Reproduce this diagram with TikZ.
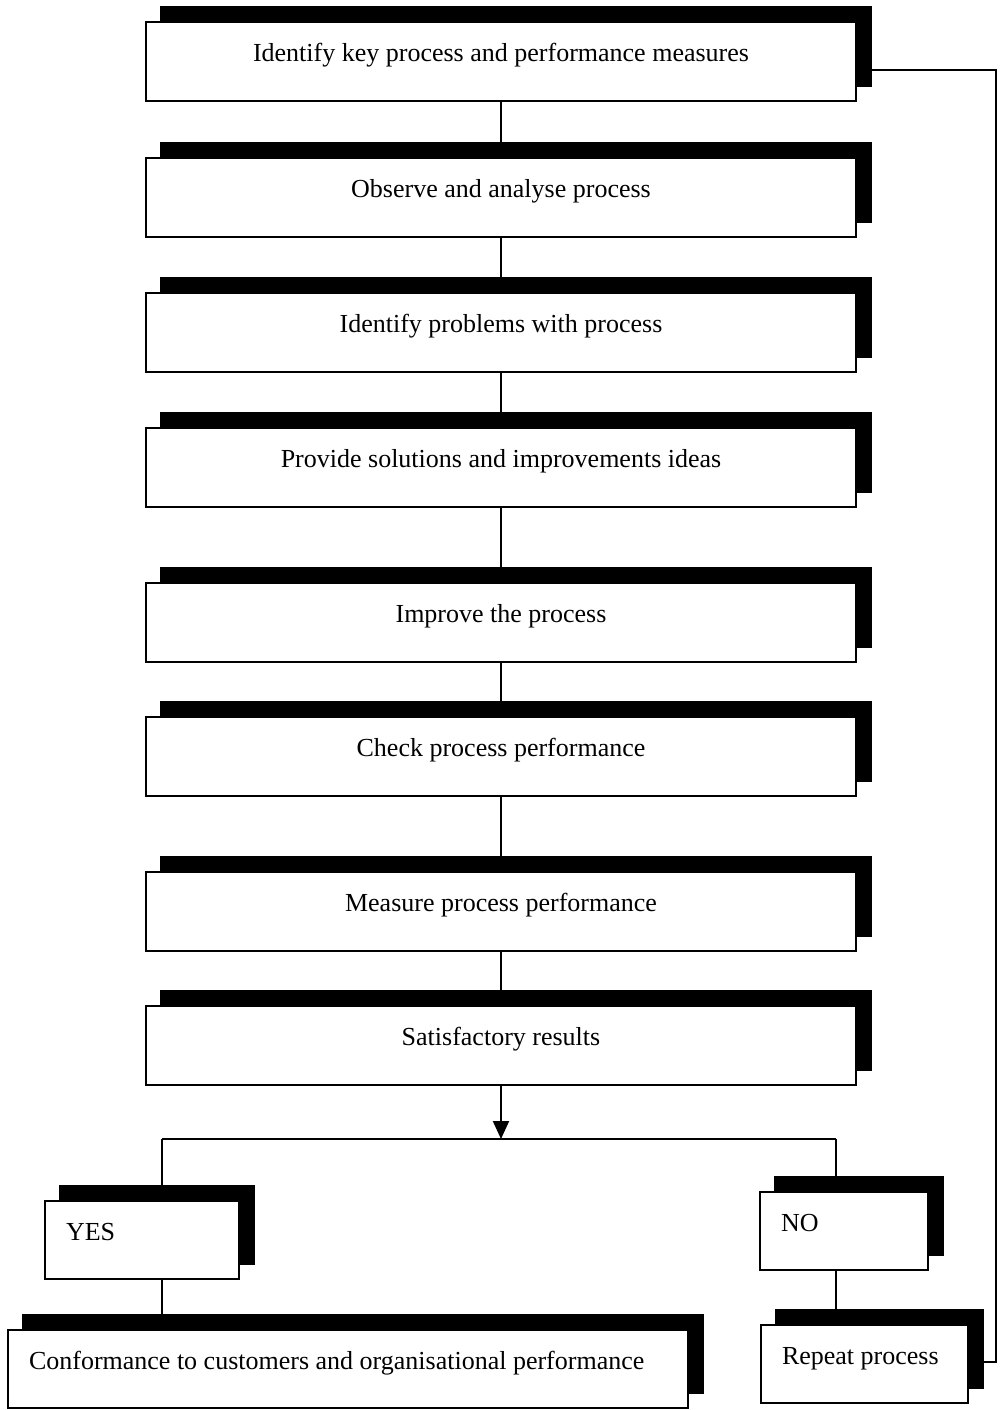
\documentclass[tikz,border=0pt]{standalone}
\usepackage{fontspec}
\setmainfont{Liberation Serif}
\usetikzlibrary{shadows,arrows.meta}
\begin{document}
\begin{tikzpicture}[x=1pt,y=-1pt,
  boxbase/.style={draw=black, line width=2pt, fill=white, inner sep=0pt,
    copy shadow={shadow xshift=15pt, shadow yshift=15pt, fill=black, draw=black},
    font=\fontsize{26}{29}\selectfont, text height=18pt, text depth=18pt},
  stepbox/.style={boxbase, minimum width=710pt, minimum height=79pt, align=center},
  tagbox/.style={boxbase, text width=#1, align=flush left, inner xsep=21pt, minimum height=78pt},
  link/.style={draw=black, line width=2pt}
]
\path[use as bounding box, fill=white] (0,0) rectangle (1007,1410);

% main sequence of steps
\node[stepbox] (b1) at (501,62)   {Identify key process and performance measures};
\node[stepbox] (b2) at (501,197)  {Observe and analyse process};
\node[stepbox] (b3) at (501,332)  {Identify problems with process};
\node[stepbox] (b4) at (501,467)  {Provide solutions and improvements ideas};
\node[stepbox] (b5) at (501,622)  {Improve the process};
\node[stepbox] (b6) at (501,756)  {Check process performance};
\node[stepbox] (b7) at (501,911)  {Measure process performance};
\node[stepbox] (b8) at (501,1045) {Satisfactory results};

% decision outcomes
\node[tagbox=152pt] (yes)  at (142,1240)   {YES};
\node[tagbox=126pt] (no)   at (844,1231)   {NO};
\node[tagbox=638pt] (conf) at (348,1369)   {Conformance to customers and organisational performance};
\node[tagbox=165pt] (rep)  at (864.5,1364) {Repeat process};

% branch points
\coordinate (split) at (501,1139);
\coordinate (jl) at (162,1139);
\coordinate (jr) at (836,1139);
\coordinate (fbb) at (996,1362);
\coordinate (fbt) at (996,70);

% connectors between steps
\foreach \a/\b in {b1/b2,b2/b3,b3/b4,b4/b5,b5/b6,b6/b7,b7/b8}
  \draw[link] (\a.south) -- (\b.north);

\draw[link, -{Triangle[length=18pt,width=16pt]}] (b8.south) -- (split);
\draw[link] (jl) -- (jr);
\draw[link] (jl) -- (jl |- yes.north);
\draw[link] (jr) -- (jr |- no.north);
\draw[link] (jl |- yes.south) -- (jl |- conf.north);
\draw[link] (jr |- no.south) -- (jr |- rep.north);

% feedback loop back to the first step
\draw[link] (rep.east |- fbb) -- (fbb) -- (fbt) -- (b1.east |- fbt);
\end{tikzpicture}
\end{document}
